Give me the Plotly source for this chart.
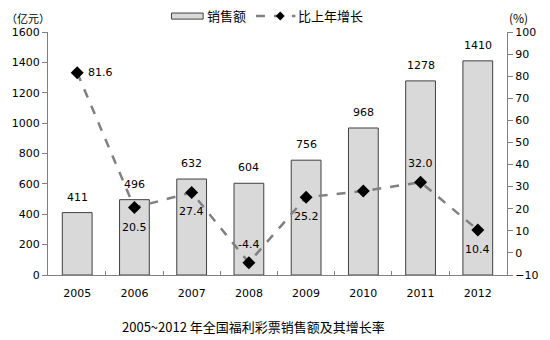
import plotly.graph_objects as go

years = ["2005", "2006", "2007", "2008", "2009", "2010", "2011", "2012"]
sales = [411, 496, 632, 604, 756, 968, 1278, 1410]
growth = [81.6, 20.5, 27.4, -4.4, 25.2, 28.0, 32.0, 10.4]
growth_labels = ["81.6", "20.5", "27.4", "-4.4", "25.2", "", "32.0", "10.4"]
# label placement relative to the point: r = right, b = below, t = above
growth_pos = ["r", "b", "b", "t", "b", "", "t", "b"]

FONT = "DejaVu Sans, Verdana, Noto Sans CJK SC"
CJK = "Noto Sans CJK SC"

fig = go.Figure()
fig.add_trace(go.Bar(
    x=years, y=sales, name="销售额",
    marker=dict(color="#d9d9d9", line=dict(color="#404040", width=1)),
    width=0.52,
))
fig.add_trace(go.Scatter(
    x=years, y=growth, name="比上年增长", yaxis="y2",
    mode="lines+markers",
    line=dict(color="#808080", width=2.5, dash="dash"),
    marker=dict(symbol="diamond", size=10, color="black"),
    cliponaxis=False,
))

ann = []
for i, v in enumerate(sales):
    ann.append(dict(x=i, y=v, xref="x", yref="y", text=str(v), showarrow=False,
                    yanchor="bottom", yshift=7, font=dict(size=11, family=FONT)))
for i, (v, t, p) in enumerate(zip(growth, growth_labels, growth_pos)):
    if not t:
        continue
    d = dict(x=i, y=v, xref="x", yref="y2", text=t, showarrow=False,
             font=dict(size=11, family=FONT))
    if p == "r":
        d.update(xanchor="left", xshift=9, yanchor="middle")
    elif p == "b":
        d.update(yanchor="top", yshift=-11)
    else:
        d.update(yanchor="bottom", yshift=10)
    ann.append(d)

ann += [
    dict(text="（亿元）", xref="paper", yref="paper", x=-0.095, y=1.058,
         xanchor="left", yanchor="middle", showarrow=False,
         font=dict(size=11, family=CJK)),
    dict(text="(%)", xref="paper", yref="paper", x=1.0, y=1.058,
         xanchor="left", yanchor="middle", showarrow=False,
         font=dict(size=12, family=CJK)),
    dict(text="销售额", xref="paper", yref="paper", x=0.343, y=1.066,
         xanchor="left", yanchor="middle", showarrow=False,
         font=dict(size=13, family=CJK)),
    dict(text="比上年增长", xref="paper", yref="paper", x=0.541, y=1.066,
         xanchor="left", yanchor="middle", showarrow=False,
         font=dict(size=13, family=CJK)),
    dict(text="2005~2012 年全国福利彩票销售额及其增长率", xref="paper", yref="paper",
         x=0.447, y=-0.165, xanchor="center", yanchor="top", showarrow=False,
         font=dict(size=13, family=CJK)),
]

dx = 4.5 / 464
dy = 4.5 / 243
cx, cy = 0.506, 1.066
shapes = [
    dict(type="rect", xref="paper", yref="paper", x0=0.269, x1=0.338, y0=1.053, y1=1.078,
         fillcolor="#d9d9d9", line=dict(color="#404040", width=1)),
    dict(type="line", xref="paper", yref="paper", x0=0.453, x1=0.539, y0=cy, y1=cy,
         line=dict(color="#808080", width=2.5, dash="dash")),
    dict(type="path", xref="paper", yref="paper",
         path=f"M {cx-dx} {cy} L {cx} {cy+dy} L {cx+dx} {cy} L {cx} {cy-dy} Z",
         fillcolor="black", line=dict(color="black", width=0)),
]

fig.update_layout(
    width=550, height=340,
    margin=dict(l=48, r=38, t=32, b=65),
    paper_bgcolor="white", plot_bgcolor="white",
    font=dict(family=FONT, size=11, color="black"),
    showlegend=False,
    xaxis=dict(type="category", showline=True, linecolor="#808080", ticks="inside",
               tickson="boundaries", ticklen=4, tickcolor="#808080", showgrid=False,
               tickfont=dict(size=11), tickangle=0, ticklabelstandoff=8),
    yaxis=dict(range=[0, 1600], dtick=200, showline=True, linecolor="#808080",
               ticks="outside", ticklen=5, tickcolor="#808080", showgrid=False,
               zeroline=False, tickfont=dict(size=11)),
    yaxis2=dict(range=[-10, 100], dtick=10, overlaying="y", side="right",
                showline=True, linecolor="#808080", ticks="outside", ticklen=5,
                tickcolor="#808080", showgrid=False, zeroline=False,
                tickfont=dict(size=11)),
    annotations=ann,
    shapes=shapes,
)

fig.write_html("out.html")
